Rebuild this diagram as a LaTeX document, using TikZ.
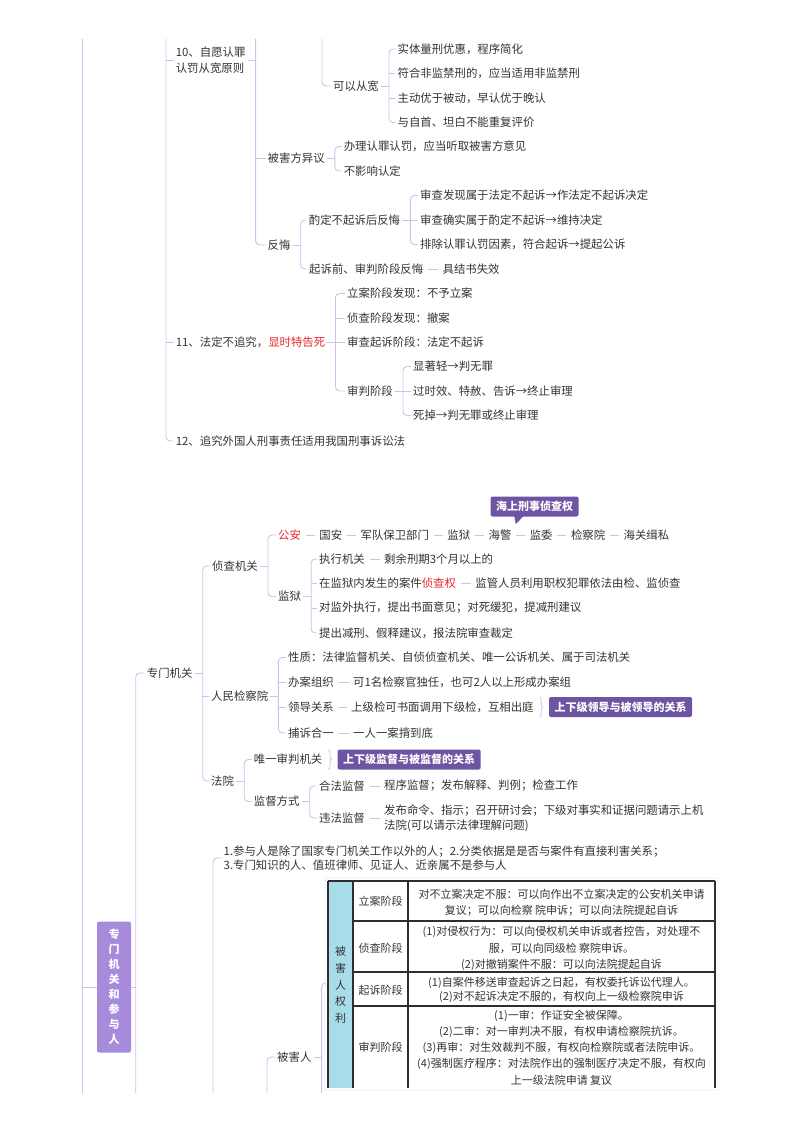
\documentclass[tikz,border=0pt]{standalone}
\usepackage{fontspec}
\newfontfamily\cjk{Noto Sans CJK SC}
\usetikzlibrary{positioning, calc, decorations.pathreplacing}

\definecolor{ink}{HTML}{333333}
\definecolor{edge}{HTML}{C9C3EC}
\definecolor{hot}{HTML}{E8262C}
\definecolor{tagc}{HTML}{6E55A4}
\definecolor{rootc}{HTML}{A68BDB}
\definecolor{cyanc}{HTML}{A7DCE8}
\definecolor{rule}{HTML}{2E2E2E}

% bracket from a parent to its first and last child
\newcommand{\fork}[3]{%
  \coordinate (#1-b) at ($(#1.east)+(8,0)$);
  \draw[link] (#1.east) -- (#1-b);
  \draw[link] (#2.west) -| (#1-b) |- (#3.west);
}
% a middle child hanging on that bracket
\newcommand{\twig}[2]{\draw[link] (#1-b |- #2.west) -- (#2.west);}

\begin{document}
\begin{tikzpicture}[
  x=1pt, y=-1pt,
  item/.style={anchor=west, inner xsep=2pt, inner ysep=1pt, text=ink,
    font=\cjk\fontsize{11.4}{16}\selectfont},
  link/.style={draw=edge, line width=0.9pt, rounded corners=4pt},
  joint/.style={draw=edge, line width=0.9pt, shorten <=2.5pt, shorten >=2.5pt},
  brc/.style={draw=edge, line width=0.8pt, decorate, decoration={brace, amplitude=3pt}},
  tag/.style={fill=tagc, text=white, rounded corners=2pt, inner xsep=5.5pt,
    minimum height=20pt, font=\cjk\bfseries\fontsize{11}{13}\selectfont},
  root/.style={fill=rootc, text=white, rounded corners=2pt, minimum width=34pt,
    minimum height=131pt, align=center, font=\cjk\bfseries\fontsize{11}{15}\selectfont},
  cell/.style={align=center, inner sep=0pt, text=ink, font=\cjk\fontsize{11}{16.2}\selectfont}
  ]
  \useasboundingbox (0,0) rectangle (800,1132);

  % cut ends of the long lines
  \coordinate (L1) at (82,39);
  \coordinate (L2) at (166,39);
  \coordinate (L3) at (322,39);
  \coordinate (bot) at (0,1093);

  %% 10 - 12
  \node[item, align=left] (n10) at (173.6,60) {10、自愿认罪\\认罚从宽原则};
  \node[item] (kyck) at (331,86) {可以从宽};
  \node[item] (k1) at (395.4,49) {实体量刑优惠，程序简化};
  \node[item] (k2) at (395.4,73.5) {符合非监禁刑的，应当适用非监禁刑};
  \node[item] (k3) at (395.4,98) {主动优于被动，早认优于晚认};
  \node[item] (k4) at (395.4,122.5) {与自首、坦白不能重复评价};
  \node[item] (bhyy) at (265.5,158) {被害方异议};
  \node[item] (b1) at (341.6,146.5) {办理认罪认罚，应当听取被害方意见};
  \node[item] (b2) at (341.6,171) {不影响认定};
  \node[item] (fh) at (265.5,245) {反悔};
  \node[item] (zd) at (306.7,220) {酌定不起诉后反悔};
  \node[item] (z1) at (418,195.5) {审查发现属于法定不起诉→作法定不起诉决定};
  \node[item] (z2) at (418,220) {审查确实属于酌定不起诉→维持决定};
  \node[item] (z3) at (418,244.5) {排除认罪认罚因素，符合起诉→提起公诉};
  \node[item] (qs) at (307,269) {起诉前、审判阶段反悔};
  \node[item, right=15pt of qs] (jj) {具结书失效};

  \node[item] (n11) at (173.6,342.5) {11、法定不追究，\textcolor{hot}{显时特告死}};
  \node[item] (s1) at (345,293.5) {立案阶段发现：不予立案};
  \node[item] (s2) at (345,318) {侦查阶段发现：撤案};
  \node[item] (s3) at (345,342.5) {审查起诉阶段：法定不起诉};
  \node[item] (s4) at (345,391) {审判阶段};
  \node[item] (t1) at (411,366.5) {显著轻→判无罪};
  \node[item] (t2) at (411,391) {过时效、特赦、告诉→终止审理};
  \node[item] (t3) at (411,415.5) {死掉→判无罪或终止审理};
  \node[item] (n12) at (173.6,441) {12、追究外国人刑事责任适用我国刑事诉讼法};

  \draw[link] (L1) -- (L1 |- bot);
  \draw[link] (L2) |- (n12.west);
  \draw[link] (L2 |- n10.west) -- (n10.west);
  \draw[link] (L2 |- n11.west) -- (n11.west);

  \coordinate (n10-b) at ($(n10.east)+(8,0)$);
  \draw[link] (n10.east) -- (n10-b);
  \draw[link] (n10-b |- L2) |- (fh.west);
  \twig{n10}{bhyy}

  \draw[link] (L3) |- (kyck.west);
  \fork{kyck}{k1}{k4} \twig{kyck}{k2} \twig{kyck}{k3}
  \fork{bhyy}{b1}{b2}
  \fork{fh}{zd}{qs}
  \fork{zd}{z1}{z3} \twig{zd}{z2}
  \draw[joint] (qs) -- (jj);

  \fork{n11}{s1}{s4} \twig{n11}{s2} \twig{n11}{s3}
  \fork{s4}{t1}{t3} \twig{s4}{t2}

  %% 专门机关和参与人
  \node[root] (root) at (114,987) {专\\门\\机\\关\\和\\参\\与\\人};
  \draw[link] (L1 |- root.west) -- (root.west);
  \coordinate (root-b) at ($(root.east)+(4.5,0)$);
  \draw[link] (root.east) -- (root-b);

  \node[item] (zmjg) at (144.7,673) {专门机关};
  \draw[link] (zmjg.west) -| (root-b) -- (root-b |- bot);

  \node[item] (zc) at (210,566) {侦查机关};
  \node[item] (jcy) at (209,696) {人民检察院};
  \node[item] (fy) at (209,781) {法院};
  \fork{zmjg}{zc}{fy} \twig{zmjg}{jcy}

  % 侦查机关
  \node[item, text=hot] (c1) at (276,535) {公安};
  \foreach \t [count=\i from 2, remember=\i as \j (initially 1)] in
    {国安,军队保卫部门,监狱,海警,监委,检察院,海关缉私}{
    \node[item, right=14pt of c\j] (c\i) {\t};
    \draw[joint] (c\j) -- (c\i);
  }
  \node[tag] (cb) at (534.5,506.5) {海上刑事侦查权};
  \fill[tagc] ($(cb.south west)+(24,-0.5)$) -- ++(9,0) -- ++(-7.5,8) -- cycle;

  \node[item] (jy) at (276,596.5) {监狱};
  \fork{zc}{c1}{jy}
  \node[item] (j1) at (317,559) {执行机关};
  \node[item] (j2) at (317,583.5) {在监狱内发生的案件\textcolor{hot}{侦查权}};
  \node[item] (j3) at (317,608) {对监外执行，提出书面意见；对死缓犯，提减刑建议};
  \node[item] (j4) at (317,633) {提出减刑、假释建议，报法院审查裁定};
  \node[item, right=15pt of j1] (j1b) {剩余刑期3个月以上的};
  \node[item, right=15pt of j2] (j2b) {监管人员利用职权犯罪依法由检、监侦查};
  \fork{jy}{j1}{j4} \twig{jy}{j2} \twig{jy}{j3}
  \draw[joint] (j1) -- (j1b);
  \draw[joint] (j2) -- (j2b);

  % 人民检察院
  \node[item] (p1) at (286,657.5) {性质：法律监督机关、自侦侦查机关、唯一公诉机关、属于司法机关};
  \node[item] (p2) at (286,682.5) {办案组织};
  \node[item] (p3) at (286,707) {领导关系};
  \node[item] (p4) at (286,733) {捕诉合一};
  \node[item, right=15pt of p2] (p2b) {可1名检察官独任，也可2人以上形成办案组};
  \node[item, right=13pt of p3] (p3b) {上级检可书面调用下级检，互相出庭};
  \node[item, right=15pt of p4] (p4b) {一人一案揹到底};
  \fork{jcy}{p1}{p4} \twig{jcy}{p2} \twig{jcy}{p3}
  \draw[joint] (p2) -- (p2b);
  \draw[joint] (p3) -- (p3b);
  \draw[joint] (p4) -- (p4b);
  \draw[brc] ($(p3b.east)+(4,-10)$) -- ($(p3b.east)+(4,10)$);
  \node[tag, right=13pt of p3b] (lead) {上下级领导与被领导的关系};

  % 法院
  \node[item] (f1) at (251.7,759.5) {唯一审判机关};
  \node[item] (f2) at (251.7,801.5) {监督方式};
  \fork{fy}{f1}{f2}
  \draw[brc] ($(f1.east)+(4,-10)$) -- ($(f1.east)+(4,10)$);
  \node[tag, right=13pt of f1] (sup) {上下级监督与被监督的关系};
  \node[item] (g1) at (317,786) {合法监督};
  \node[item] (g2) at (317,818) {违法监督};
  \node[item, right=15pt of g1] (g1b) {程序监督；发布解释、判例；检查工作};
  \node[item, right=15pt of g2, align=left, font=\cjk\fontsize{11.4}{15.3}\selectfont] (g2b)
    {发布命令、指示；召开研讨会；下级对事实和证据问题请示上机\\法院(可以请示法律理解问题)};
  \fork{f2}{g1}{g2}
  \draw[joint] (g1) -- (g1b);
  \draw[joint] (g2) -- (g2b);

  %% 参与人
  \node[item, align=left, font=\cjk\fontsize{11.4}{13.5}\selectfont] (note) at (221.5,858)
    {1.参与人是除了国家专门机关工作以外的人；2.分类依据是是否与案件有直接利害关系；\\3.专门知识的人、值班律师、见证人、近亲属不是参与人};
  \draw[link] (note.west) -| (213,1093);

  \node[item] (bhr) at (275,1057) {被害人};
  \draw[link] (bhr.west) -| (267,1093);
  \coordinate (bhr-b) at ($(bhr.east)+(8,0)$);
  \draw[link] (bhr.east) -- (bhr-b);
  \coordinate (tb) at (326,983);
  \draw[link] (tb) -| (bhr-b |- bot);

  % table of the victim's rights
  \draw[gray!35, rounded corners=1pt] (325,878) rectangle (718,1090);
  \fill[cyanc] (328,881) rectangle (353,1088);
  \draw[rule, line width=1.2pt] (328,881) -- (715,881);
  \foreach \y in {921,972,1006}
    \draw[rule, line width=1.2pt] (353,\y) -- (715,\y);
  \foreach \x in {328,353,408,715}
    \draw[rule, line width=1.2pt] (\x,881) -- (\x,1088);

  \node[cell, font=\cjk\fontsize{11}{16.6}\selectfont] (vr) at (340.5,985) {被\\害\\人\\权\\利};
  \node[cell] (h1) at (380.5,901) {立案阶段};
  \node[cell] (h2) at (380.5,948) {侦查阶段};
  \node[cell] (h3) at (380.5,990) {起诉阶段};
  \node[cell] (h4) at (380.5,1047) {审判阶段};
  \node[cell] (r1) at (561.5,903)
    {对不立案决定不服：可以向作出不立案决定的公安机关申请\\复议；可以向检察 院申诉；可以向法院提起自诉};
  \node[cell] (r2) at (561.5,948.5)
    {(1)对侵权行为：可以向侵权机关申诉或者控告，对处理不\\服，可以向同级检 察院申诉。\\(2)对撤销案件不服：可以向法院提起自诉};
  \node[cell, font=\cjk\fontsize{11}{14}\selectfont] (r3) at (561.5,989.7)
    {(1)自案件移送审查起诉之日起，有权委托诉讼代理人。\\(2)对不起诉决定不服的，有权向上一级检察院申诉};
  \node[cell] (r4) at (561.5,1047.5)
    {(1)一审：作证安全被保障。\\(2)二审：对一审判决不服，有权申请检察院抗诉。\\(3)再审：对生效裁判不服，有权向检察院或者法院申诉。\\(4)强制医疗程序：对法院作出的强制医疗决定不服，有权向\\上一级法院申请 复议};

\end{tikzpicture}
\end{document}
